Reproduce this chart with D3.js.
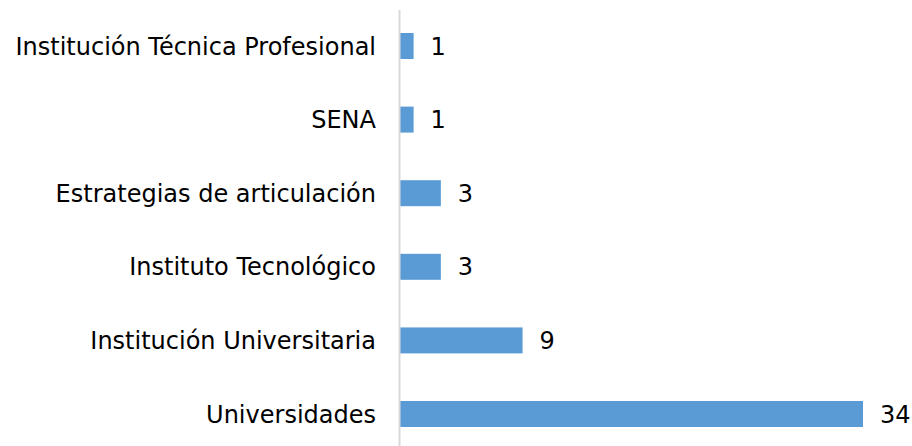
<!DOCTYPE html>
<html>
<head>
<meta charset="utf-8">
<script src="https://cdn.jsdelivr.net/npm/d3@7"></script>
<style>
  body { margin: 0; background: #fff; }
  svg { display: block; }
  text { font-family: Verdana, "DejaVu Sans", sans-serif; }
</style>
</head>
<body>
<svg width="912" height="446"></svg>
<script>
const categories = [
  "Institución Técnica Profesional",
  "SENA",
  "Estrategias de articulación",
  "Instituto Tecnológico",
  "Institución Universitaria",
  "Universidades"
];
const values = [1, 1, 3, 3, 9, 34];

document.addEventListener("DOMContentLoaded", function () {
  const svg = d3.select("svg");
  const axisX = 399.5;

  let x = d3.scaleLinear().domain([0, 34]).range([400, 863]);

  let y = d3.scaleBand()
    .domain(categories)
    .range([9.2, 450.8])
    .paddingInner(0.647)
    .paddingOuter(0.3235);

  // bars
  svg.append("g")
    .selectAll("rect")
    .data(values)
    .enter()
    .append("rect")
    .attr("x", x(0))
    .attr("y", (d, i) => y(categories[i]))
    .attr("width", d => x(d) - x(0))
    .attr("height", y.bandwidth())
    .attr("fill", "#5b9bd5");

  // vertical axis line
  svg.append("line")
    .attr("x1", axisX).attr("x2", axisX)
    .attr("y1", 10).attr("y2", 446)
    .attr("stroke", "#d9d9d9")
    .attr("stroke-width", 2);

  // category labels
  svg.append("g")
    .selectAll("text")
    .data(categories)
    .enter()
    .append("text")
    .attr("x", 376)
    .attr("y", d => y(d) + y.bandwidth() / 2)
    .attr("dy", "0.36em")
    .attr("text-anchor", "end")
    .attr("font-size", 24)
    .attr("fill", "#000")
    .text(d => d);

  // value labels
  svg.append("g")
    .selectAll("text")
    .data(values)
    .enter()
    .append("text")
    .attr("x", d => x(d) + 17)
    .attr("y", (d, i) => y(categories[i]) + y.bandwidth() / 2)
    .attr("dy", "0.36em")
    .attr("font-size", 24)
    .attr("fill", "#000")
    .text(d => d);
});
</script>
</body>
</html>
